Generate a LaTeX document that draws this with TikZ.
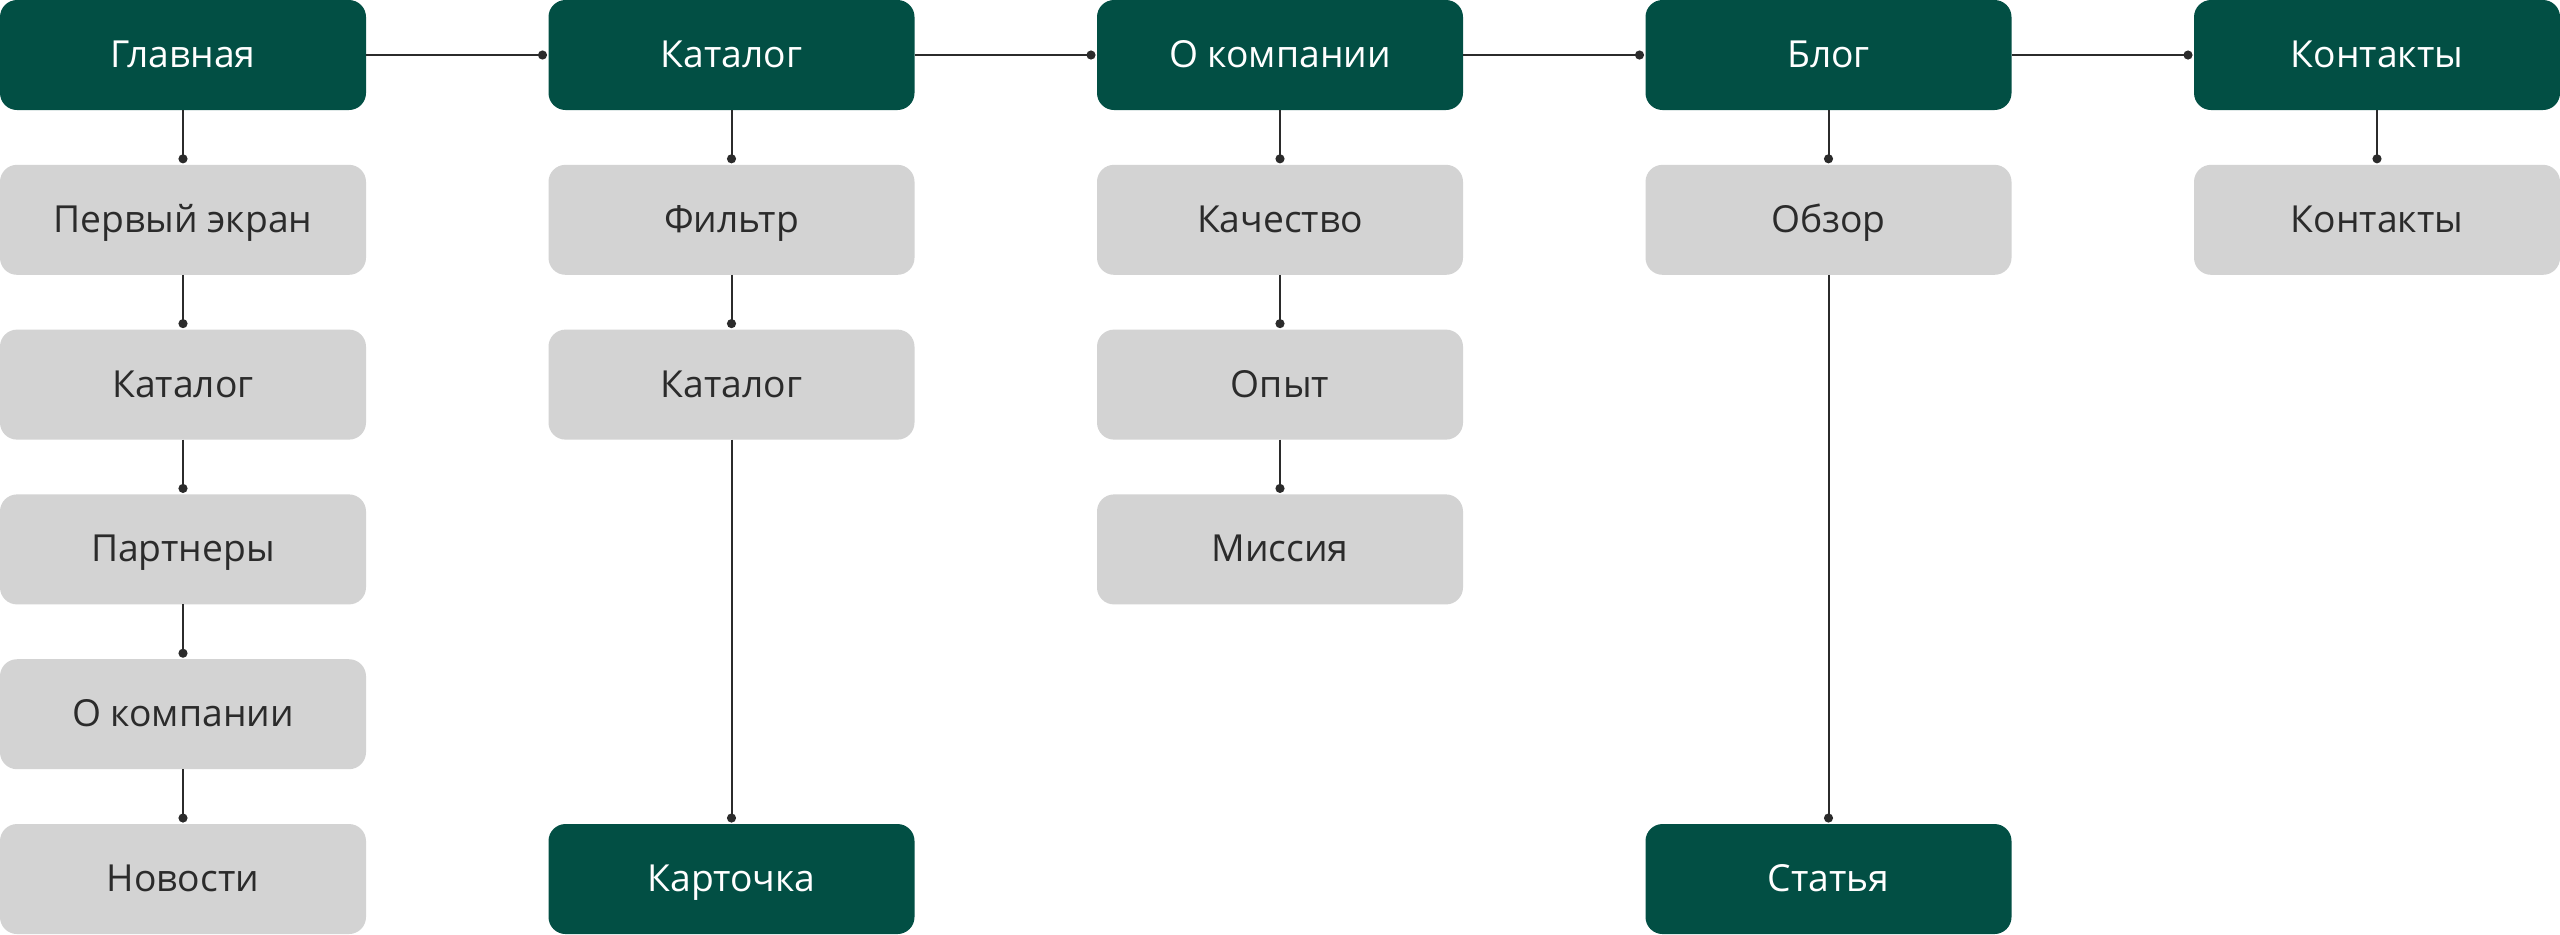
\documentclass[tikz,border=0pt]{standalone}
\usepackage{fontspec}
\setmainfont{Open Sans}
\usepackage{xcolor}
\usetikzlibrary{positioning, arrows.meta}

\definecolor{pine}{HTML}{024F44}
\definecolor{mist}{HTML}{D3D3D3}
\definecolor{ink}{HTML}{2B2B2B}

\begin{document}
\begin{tikzpicture}[
        node distance=0.548cm and 1.825cm,
        page/.style={rounded corners=0.17cm, minimum width=3.66cm, minimum height=1.10cm,
            inner sep=0pt, outer sep=0pt, text height=0.714em, text depth=0pt,
            font=\fontsize{10.6pt}{13pt}\selectfont},
        mainpage/.style={page, fill=pine, text=white},
        subpage/.style={page, fill=mist, text=ink},
        link/.style={draw=ink, line width=0.02cm, -{Circle[length=0.09cm]}, shorten >=0.015cm}
    ]
        \useasboundingbox (0,0) rectangle (25.6,-9.34);

        \node[mainpage, anchor=north west] at (0,0) (home) {Главная};
        \node[mainpage, right=of home]     (catalog)  {Каталог};
        \node[mainpage, right=of catalog]  (about)    {О компании};
        \node[mainpage, right=of about]    (blog)     {Блог};
        \node[mainpage, right=of blog]     (contacts) {Контакты};

        \node[subpage, below=of home]     (first)    {Первый экран};
        \node[subpage, below=of first]    (cat1)     {Каталог};
        \node[subpage, below=of cat1]     (partners) {Партнеры};
        \node[subpage, below=of partners] (about1)   {О компании};
        \node[subpage, below=of about1]   (news)     {Новости};

        \node[subpage, below=of catalog]  (filter)   {Фильтр};
        \node[subpage, below=of filter]   (cat2)     {Каталог};
        \node[mainpage, right=of news]    (card)     {Карточка};

        \node[subpage, below=of about]    (quality)  {Качество};
        \node[subpage, below=of quality]  (exp)      {Опыт};
        \node[subpage, below=of exp]      (mission)  {Миссия};

        \node[subpage, below=of blog]     (review)   {Обзор};
        \node[mainpage] at (blog |- card) (article)  {Статья};

        \node[subpage, below=of contacts] (cont1)    {Контакты};

        \draw
            (home) edge[link] (catalog)
            (catalog) edge[link] (about)
            (about) edge[link] (blog)
            (blog) edge[link] (contacts)
            (home) edge[link] (first)
            (first) edge[link] (cat1)
            (cat1) edge[link] (partners)
            (partners) edge[link] (about1)
            (about1) edge[link] (news)
            (catalog) edge[link] (filter)
            (filter) edge[link] (cat2)
            (cat2) edge[link] (card)
            (about) edge[link] (quality)
            (quality) edge[link] (exp)
            (exp) edge[link] (mission)
            (blog) edge[link] (review)
            (review) edge[link] (article)
            (contacts) edge[link] (cont1)
            ;
\end{tikzpicture}
\end{document}
